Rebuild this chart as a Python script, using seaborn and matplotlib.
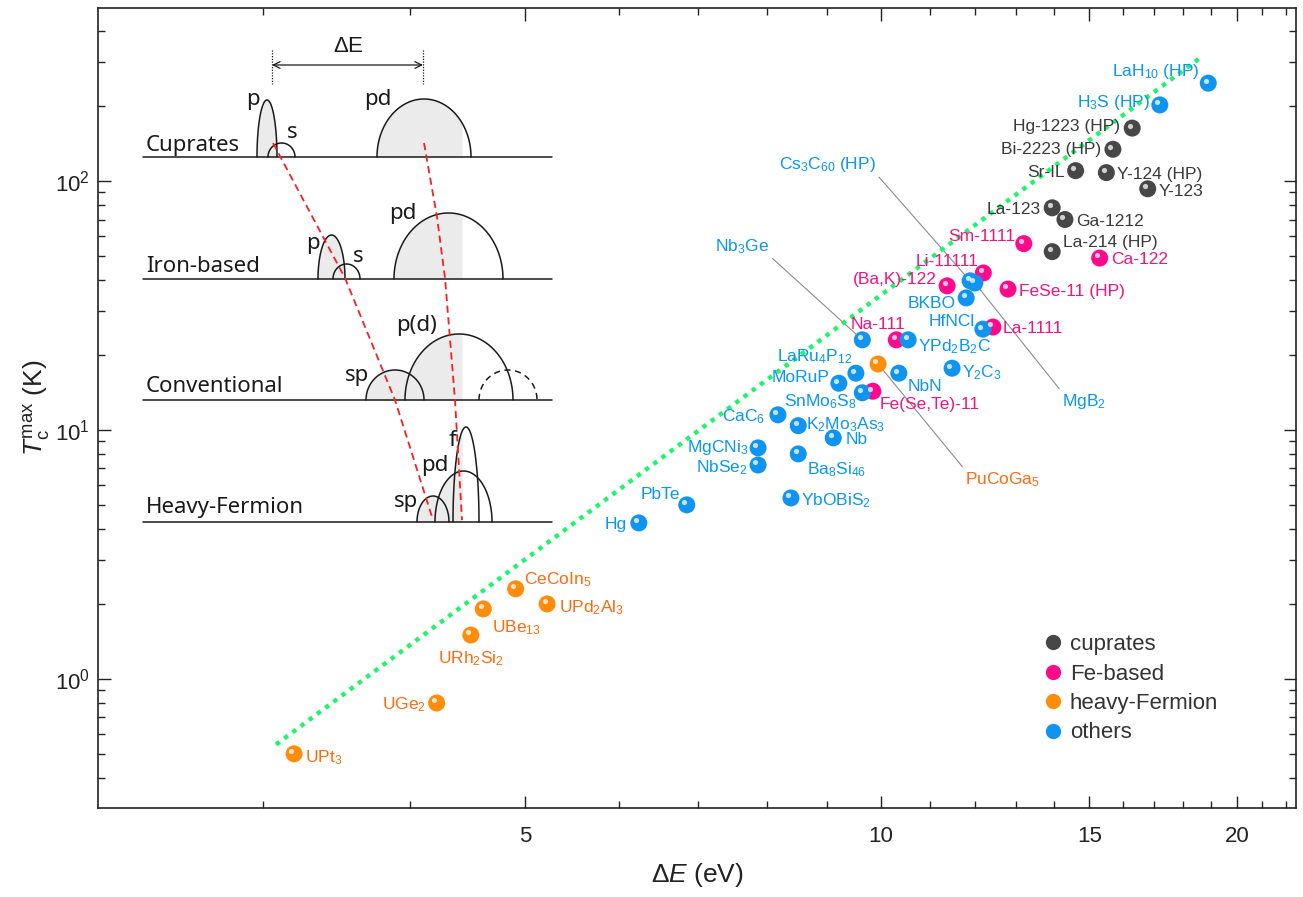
import numpy as np
import pandas as pd
import matplotlib
matplotlib.use('Agg')
import matplotlib.pyplot as plt
import matplotlib.transforms as mtransforms
from matplotlib.lines import Line2D
import seaborn as sns

# ---- data ----
cuprate_names = ['Hg-1223 (HP)', 'Bi-2223 (HP)', 'Sr-IL', 'Y-124 (HP)', 'Y-123',
                 'La-123', 'Ga-1212', 'La-214 (HP)']
cuprate_dE = [16.3, 15.7, 14.6, 15.5, 16.8, 13.95, 14.3, 13.95]
cuprate_tc = [163, 134, 110, 108, 93, 78, 70, 52]

fe_names = ['Sm-1111', 'Ca-122', 'Li-11111', '(Ba,K)-122', 'FeSe-11 (HP)',
            'La-1111', 'Na-111', 'Fe(Se,Te)-11']
fe_dE = [13.2, 15.3, 12.2, 11.37, 12.8, 12.43, 10.3, 9.84]
fe_tc = [56, 49, 42.7, 37.9, 36.8, 25.9, 23.0, 14.3]

hf_names = ['PuCoGa$_5$', 'CeCoIn$_5$', 'UPd$_2$Al$_3$', 'UBe$_{13}$',
            'URh$_2$Si$_2$', 'UGe$_2$', 'UPt$_3$']
hf_dE = [9.94, 4.91, 5.22, 4.61, 4.50, 4.21, 3.19]
hf_tc = [18.4, 2.30, 2.0, 1.91, 1.50, 0.80, 0.50]

other_names = ['LaH$_{10}$ (HP)', 'H$_3$S (HP)', 'Cs$_3$C$_{60}$ (HP)', 'MgB$_2$', 'BKBO',
               'HfNCl', 'YPd$_2$B$_2$C', 'Nb$_3$Ge', 'Y$_2$C$_3$', 'LaRu$_4$P$_{12}$',
               'NbN', 'MoRuP', 'SnMo$_6$S$_8$', 'CaC$_6$', 'K$_2$Mo$_3$As$_3$', 'Nb',
               'Ba$_8$Si$_{46}$', 'MgCNi$_3$', 'NbSe$_2$', 'YbOBiS$_2$', 'PbTe', 'Hg']
other_dE = [18.9, 17.2, 11.89, 12.0, 11.8, 12.19, 10.54, 9.64, 11.48, 9.52,
            10.35, 9.21, 9.64, 8.18, 8.51, 9.11, 8.51, 7.87, 7.87, 8.39, 6.85, 6.24]
other_tc = [247, 202, 39.7, 38.9, 33.9, 25.4, 23.0, 23.0, 17.7, 16.9,
            16.9, 15.4, 14.1, 11.5, 10.4, 9.29, 8.01, 8.47, 7.23, 5.33, 5.0, 4.23]

trend_dE = [3.08, 18.6]
trend_tc = [0.545, 312]

groups = ['cuprates', 'Fe-based', 'heavy-Fermion', 'others']
marker_colors = {'cuprates': '#474747', 'Fe-based': '#ff0a8c',
                 'heavy-Fermion': '#ff8c0a', 'others': '#1094f2'}
text_colors = {'cuprates': '#3a3a3a', 'Fe-based': '#f5147f',
               'heavy-Fermion': '#ff6a10', 'others': '#0a96f5'}

df = pd.concat([
    pd.DataFrame({'name': cuprate_names, 'dE': cuprate_dE, 'tc': cuprate_tc, 'group': 'cuprates'}),
    pd.DataFrame({'name': fe_names, 'dE': fe_dE, 'tc': fe_tc, 'group': 'Fe-based'}),
    pd.DataFrame({'name': hf_names, 'dE': hf_dE, 'tc': hf_tc, 'group': 'heavy-Fermion'}),
    pd.DataFrame({'name': other_names, 'dE': other_dE, 'tc': other_tc, 'group': 'others'}),
], ignore_index=True)

# label placement: offset from the point in pixels (right, up), alignment
label_pos = {
    'Hg-1223 (HP)': (-12, 3, 'right'), 'Bi-2223 (HP)': (-12, 1, 'right'),
    'Sr-IL': (-11, 0, 'right'), 'Y-124 (HP)': (11, 0, 'left'), 'Y-123': (11, -1, 'left'),
    'La-123': (-11, 0, 'right'), 'Ga-1212': (11, 0, 'left'), 'La-214 (HP)': (11, 11, 'left'),
    'Sm-1111': (-8, 9, 'right'), 'Ca-122': (11, 0, 'left'), 'Li-11111': (-5, 13, 'right'),
    '(Ba,K)-122': (-10, 8, 'right'), 'FeSe-11 (HP)': (11, -1, 'left'),
    'La-1111': (10, 0, 'left'), 'Na-111': (-18, 17, 'center'), 'Fe(Se,Te)-11': (7, -12, 'left'),
    'CeCoIn$_5$': (8, 11, 'left'), 'UPd$_2$Al$_3$': (12, -2, 'left'),
    'UBe$_{13}$': (9, -17, 'left'), 'URh$_2$Si$_2$': (0, -22, 'center'),
    'UGe$_2$': (-11, 0, 'right'), 'UPt$_3$': (11, -2, 'left'),
    'LaH$_{10}$ (HP)': (-9, 13, 'right'), 'H$_3$S (HP)': (-10, 4, 'right'),
    'BKBO': (-11, -4, 'right'), 'HfNCl': (-8, 9, 'right'), 'YPd$_2$B$_2$C': (10, -5, 'left'),
    'Y$_2$C$_3$': (10, -3, 'left'), 'LaRu$_4$P$_{12}$': (-3, 18, 'right'),
    'NbN': (9, -12, 'left'), 'MoRuP': (-9, 7, 'right'), 'SnMo$_6$S$_8$': (-6, -8, 'right'),
    'CaC$_6$': (-13, 0, 'right'), 'K$_2$Mo$_3$As$_3$': (8, 2, 'left'), 'Nb': (12, 0, 'left'),
    'Ba$_8$Si$_{46}$': (9, -14, 'left'), 'MgCNi$_3$': (-10, 2, 'right'),
    'NbSe$_2$': (-10, -1, 'right'), 'YbOBiS$_2$': (10, -1, 'left'),
    'PbTe': (-7, 12, 'right'), 'Hg': (-12, 0, 'right'),
}
# labels joined to their point with a thin leader line
leader_pos = {
    'Cs$_3$C$_{60}$ (HP)': (-94, 118, 'right', (1, 0)),
    'MgB$_2$': (87, -117, 'left', (0, 1)),
    'Nb$_3$Ge': (-93, 95, 'right', (1, 0)),
    'PuCoGa$_5$': (87, -114, 'left', (0, 1)),
}

# ---- style ----
sns.set_theme(style='ticks')
plt.rcParams['font.family'] = ['Liberation Sans', 'DejaVu Sans']
plt.rcParams['mathtext.fontset'] = 'custom'
plt.rcParams['mathtext.rm'] = 'Liberation Sans'
plt.rcParams['mathtext.it'] = 'Liberation Sans:italic'
plt.rcParams['mathtext.default'] = 'regular'

PX = 0.72  # points per pixel at dpi 100

fig = plt.figure(figsize=(13.03, 8.97), dpi=100)
ax = fig.add_axes([98 / 1303, 1 - 808 / 897, (1296 - 98) / 1303, 800 / 897])

ax.plot(trend_dE, trend_tc, ls=(0, (1, 1.3)), color='#1ef56a', lw=3.2, zorder=2)

sns.scatterplot(data=df, x='dE', y='tc', hue='group', palette=marker_colors,
                s=150, edgecolor='none', linewidth=0, legend=False, ax=ax, zorder=3)
# small glossy highlight on each ball
hl = mtransforms.offset_copy(ax.transData, fig=fig, x=-2.6 * PX, y=2.6 * PX, units='points')
ax.scatter(df['dE'], df['tc'], s=14, color='white', alpha=0.75, lw=0, transform=hl, zorder=4)

ax.set_xscale('log')
ax.set_yscale('log')
ax.set_xlim(2.178, 22.42)
ax.set_ylim(0.303, 495)

for _, r in df.iterrows():
    col = text_colors[r['group']]
    if r['name'] in leader_pos:
        dx, dy, ha, rp = leader_pos[r['name']]
        ax.annotate(r['name'], (r['dE'], r['tc']), xytext=(dx * PX, (dy - 6) * PX),
                    textcoords='offset points', ha=ha, va='baseline', fontsize=12.5, color=col,
                    arrowprops=dict(arrowstyle='-', color='#8c8c8c', lw=0.8,
                                    shrinkA=0, shrinkB=0, relpos=rp), zorder=1)
    else:
        dx, dy, ha = label_pos[r['name']]
        ax.annotate(r['name'], (r['dE'], r['tc']), xytext=(dx * PX, (dy - 6) * PX),
                    textcoords='offset points', ha=ha, va='baseline', fontsize=12.5, color=col,
                    zorder=5)

ax.set_xticks([5, 10, 15, 20])
ax.set_xticks([3, 4, 6, 7, 8, 9, 11, 12, 13, 14, 16, 17, 18, 19, 21, 22], minor=True)
ax.set_xticklabels(['5', '10', '15', '20'])
ax.xaxis.set_minor_formatter(matplotlib.ticker.NullFormatter())
ax.tick_params(which='both', direction='in', top=True, right=True, colors='#222222',
               width=1.0)
ax.tick_params(which='major', length=9)
ax.tick_params(which='minor', length=5)
ax.tick_params(axis='x', which='major', pad=13, labelsize=16)
ax.tick_params(axis='y', which='major', pad=6, labelsize=16)
for s in ax.spines.values():
    s.set_linewidth(1.2)
    s.set_color('#222222')

ax.set_xlabel(r'$\Delta\mathit{E}$ (eV)', fontsize=19, labelpad=10, color='#222222')
ax.set_ylabel(r'$\mathit{T}_\mathrm{c}^\mathrm{max}$ (K)', fontsize=19, labelpad=2,
              color='#222222')

handles = [Line2D([], [], marker='o', ls='', markersize=11, markeredgewidth=0,
                  color=marker_colors[g]) for g in groups]
fig.legend(handles, groups, loc='upper left', bbox_to_anchor=(1033 / 1303, 1 - 623 / 897),
           frameon=False, fontsize=16, labelcolor='#333333', handlelength=0.8,
           handletextpad=0.36, labelspacing=0.38, borderpad=0)

# ---- band schematic (drawn in figure pixel coordinates) ----
ov = fig.add_axes([0, 0, 1, 1], facecolor='none')
ov.set_xlim(0, 1303)
ov.set_ylim(897, 0)
ov.axis('off')

fermi = 462
ink = '#1a1a1a'
shade = '#ebebeb'


def dome(x0, x1, top, base, fill_to=None, ls='-'):
    cx, a, h = (x0 + x1) / 2, (x1 - x0) / 2, base - top
    t = np.linspace(0, np.pi, 120)
    if fill_to is not None:
        xx = np.linspace(x0, min(x1, fill_to), 120)
        yy = base - h * np.sqrt(np.clip(1 - ((xx - cx) / a) ** 2, 0, 1))
        ov.fill_between(xx, base, yy, color=shade, lw=0, zorder=1)
    ov.plot(cx - a * np.cos(t), base - h * np.sin(t), color=ink, lw=1.1, ls=ls, zorder=2)


rows = [('Cuprates', 157, 145), ('Iron-based', 279, 267),
        ('Conventional', 400, 387), ('Heavy-Fermion', 522, 508)]
for name, base, ty in rows:
    ov.plot([143, 552], [base, base], color=ink, lw=1.1, zorder=3)
    ov.text(146, ty, name, fontsize=16, family=['Noto Sans', 'DejaVu Sans'],
            color=ink, va='center', ha='left')

# cuprates
dome(257, 277, 100, 157, fill_to=fermi)
dome(268, 295, 143, 157)
dome(377, 471, 99, 157, fill_to=fermi)
# iron-based
dome(318, 345, 235, 279, fill_to=fermi)
dome(333, 360, 264, 279)
dome(394, 503, 213, 279, fill_to=fermi)
# conventional
dome(366, 424, 370, 400, fill_to=fermi)
dome(405, 513, 334, 400, fill_to=fermi)
dome(479, 537, 370, 400, ls=(0, (4, 3)))
# heavy fermion
dome(417, 449, 496, 522, fill_to=fermi)
dome(435, 492, 471, 522, fill_to=fermi)
dome(453, 479, 427, 522, fill_to=fermi)

band_labels = [('p', 253, 100), ('s', 292, 133), ('pd', 378, 100),
               ('p', 313, 244), ('s', 358, 256), ('pd', 403, 213),
               ('sp', 357, 375), ('p(d)', 417, 325),
               ('f', 452, 440), ('pd', 435, 466), ('sp', 406, 501)]
for txt, x, y in band_labels:
    ov.text(x, y, txt, fontsize=16, family=['Noto Sans', 'DejaVu Sans'], color=ink,
            ha='center', va='center', zorder=4)

ov.plot([273, 345, 395, 433], [143, 278, 400, 520], color='#f52020', lw=1.3,
        ls=(0, (4, 2.5)), zorder=5)
ov.plot([424, 437, 445, 455, 462], [143, 217, 278, 400, 520], color='#f52020', lw=1.3,
        ls=(0, (4, 2.5)), zorder=5)

for x in (272, 423):
    ov.plot([x, x], [50, 84], color=ink, lw=0.9, ls=(0, (1, 1.2)))
ov.annotate('', xy=(272, 65), xytext=(423, 65),
            arrowprops=dict(arrowstyle='<->', color=ink, lw=0.9, shrinkA=0, shrinkB=0))
ov.text(348, 47, r'$\Delta$E', fontsize=16, color=ink, ha='center', va='center')

fig.savefig('out.png', dpi=100)
